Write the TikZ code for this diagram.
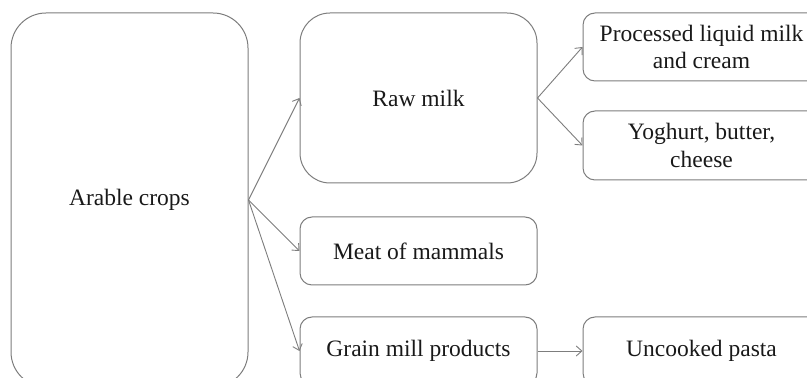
\documentclass[tikz,border=0pt]{standalone}
\usepackage{fontspec}
\setmainfont{Liberation Serif}
\usetikzlibrary{arrows.meta}
\definecolor{edge}{RGB}{125,125,125}
\definecolor{ink}{RGB}{25,25,25}
\begin{document}
\begin{tikzpicture}[x=0.5pt,y=-0.5pt,
  box/.style={draw=edge,line width=0.5pt,rounded corners=6pt,minimum width=118.5pt,
    minimum height=34pt,inner sep=0pt,align=center,text=ink,
    font=\fontsize{11.75}{13.9}\selectfont},
  conn/.style={draw=edge,line width=0.45pt,-{Straight Barb[length=2.8pt,width=5pt]}}]
\useasboundingbox (0,0) rectangle (807,378);
\clip (0,0) rectangle (807,378);
\node[box,minimum height=187pt,rounded corners=17.5pt] (arable) at (129.5,200) {Arable crops};
\node[box,minimum height=85pt,rounded corners=15pt] (raw) at (418.5,98) {Raw milk};
\node[box] (meat) at (418.5,251) {Meat of mammals};
\node[box] (grain) at (418.5,351) {Grain mill products};
\node[box] (proc) at (701.5,47) {Processed liquid milk\\and cream};
\node[box,minimum height=34.5pt] (yog) at (701.5,145.5) {Yoghurt, butter,\\cheese};
\node[box] (pasta) at (701.5,351) {Uncooked pasta};
\draw[conn] (arable.east) -- (raw.west);
\draw[conn] (arable.east) -- (meat.west);
\draw[conn] (arable.east) -- (grain.west);
\draw[conn] (raw.east) -- (proc.west);
\draw[conn] (raw.east) -- (yog.west);
\draw[conn] (grain.east) -- (pasta.west);
\end{tikzpicture}
\end{document}
